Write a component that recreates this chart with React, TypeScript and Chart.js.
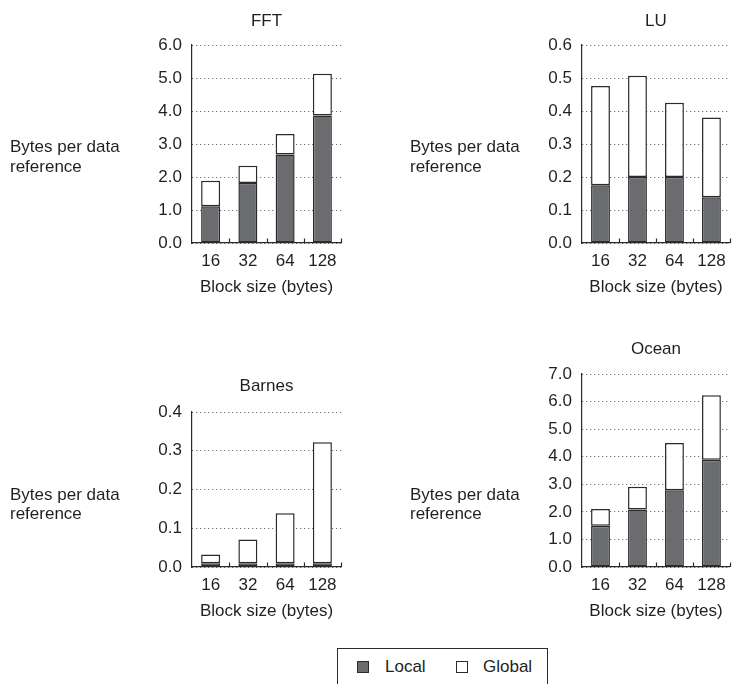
import React, { useEffect, useRef } from "react";
import { Chart, registerables } from "chart.js";

Chart.register(...registerables);

const FONT = '"Liberation Sans", Arial, Helvetica, sans-serif';
const FS = 17;
const TEXT = "#231f20";
const LOCAL_FILL = "#6b6c70";
const EDGE = "#2b2b2b";

const categories = ["16", "32", "64", "128"];
const yLabelLines = ["Bytes per data", "reference"];
const xTitle = "Block size (bytes)";
const legendLabels = ["Local", "Global"];

const fftLocal = [1.11, 1.82, 2.68, 3.86];
const fftGlobal = [0.78, 0.52, 0.62, 1.27];
const luLocal = [0.175, 0.2, 0.2, 0.139];
const luGlobal = [0.301, 0.307, 0.225, 0.241];
const barnesLocal = [0.01, 0.01, 0.01, 0.01];
const barnesGlobal = [0.022, 0.061, 0.129, 0.312];
const oceanLocal = [1.5, 2.09, 2.78, 3.89];
const oceanGlobal = [0.6, 0.82, 1.72, 2.34];

const fftAxis = [0, 6, 1];
const luAxis = [0, 0.6, 0.1];
const barnesAxis = [0, 0.4, 0.1];
const oceanAxis = [0, 7, 1];

type PanelProps = {
  title: string;
  local: number[];
  global: number[];
  axis: number[];
  left: number;
  top: number;
  width: number;
  height: number;
  plotL: number;
  plotT: number;
  plotR: number;
  plotB: number;
  titleY: number;
  labelX: number;
  labelY: number;
};

const decorPlugin = {
  id: "decor",
  afterDraw(chart: any, _args: any, opts: any) {
    const { ctx, chartArea } = chart;
    ctx.save();
    ctx.fillStyle = TEXT;
    ctx.font = `${FS}px ${FONT}`;
    ctx.textBaseline = "middle";
    ctx.textAlign = "center";
    ctx.fillText(opts.title, (chartArea.left + chartArea.right) / 2, opts.titleY);
    ctx.textAlign = "left";
    yLabelLines.forEach((line: string, i: number) => {
      ctx.fillText(line, opts.labelX, opts.labelY + i * 19.5);
    });
    const xs = chart.scales.x;
    const n = xs.ticks.length;
    ctx.strokeStyle = EDGE;
    ctx.lineWidth = 1.2;
    for (let i = 1; i <= n; i++) {
      const px = Math.round(xs.getPixelForValue(i - 0.5)) + 0.5;
      ctx.beginPath();
      ctx.moveTo(px, chartArea.bottom);
      ctx.lineTo(px, chartArea.bottom - 4.5);
      ctx.stroke();
    }
    ctx.restore();
  },
};

function Panel(p: PanelProps) {
  const ref = useRef<HTMLCanvasElement>(null);
  useEffect(() => {
    const yWidth = p.plotL - p.left;
    const xHeight = p.top + p.height - p.plotB;
    const chart = new Chart(ref.current as HTMLCanvasElement, {
      type: "bar",
      data: {
        labels: categories,
        datasets: [
          {
            label: legendLabels[0],
            data: p.local,
            backgroundColor: LOCAL_FILL,
            borderColor: EDGE,
            borderWidth: 1.5,
            borderSkipped: false,
            barPercentage: 0.51,
            categoryPercentage: 1,
          },
          {
            label: legendLabels[1],
            data: p.global,
            backgroundColor: "#ffffff",
            borderColor: EDGE,
            borderWidth: 1.5,
            borderSkipped: false,
            barPercentage: 0.51,
            categoryPercentage: 1,
          },
        ],
      },
      options: {
        responsive: false,
        animation: false,
        devicePixelRatio: 1,
        layout: {
          padding: {
            left: 0,
            top: p.plotT - p.top,
            right: p.left + p.width - p.plotR,
            bottom: 0,
          },
        },
        plugins: {
          legend: { display: false },
          tooltip: { enabled: false },
          title: { display: false },
          decor: {
            title: p.title,
            titleY: p.titleY - p.top,
            labelX: p.labelX - p.left,
            labelY: p.labelY - p.top,
          },
        } as any,
        scales: {
          x: {
            type: "category",
            stacked: true,
            offset: true,
            grid: { display: false, drawTicks: false },
            border: { display: true, color: EDGE, width: 1.2 },
            ticks: {
              color: TEXT,
              font: { family: FONT, size: FS },
              padding: 8,
              maxRotation: 0,
            },
            title: {
              display: true,
              text: xTitle,
              color: TEXT,
              font: { family: FONT, size: FS },
              padding: { top: 0, bottom: 0 },
            },
            afterFit: (s: any) => {
              s.height = xHeight;
            },
          },
          y: {
            stacked: true,
            min: p.axis[0],
            max: p.axis[1],
            grid: { color: "#555555", lineWidth: 1, drawTicks: false },
            border: { display: true, color: EDGE, width: 1.2, dash: [1, 3] },
            ticks: {
              stepSize: p.axis[2],
              color: TEXT,
              font: { family: FONT, size: FS },
              padding: 10,
              callback: (v: any) => Number(v).toFixed(1),
            },
            afterFit: (s: any) => {
              s.width = yWidth;
            },
          },
        },
      } as any,
      plugins: [decorPlugin as any],
    });
    return () => chart.destroy();
  }, []);
  return (
    <canvas
      ref={ref}
      width={p.width}
      height={p.height}
      style={{ position: "absolute", left: p.left, top: p.top, width: p.width, height: p.height }}
    />
  );
}

export default function App() {
  const legendBox: React.CSSProperties = {
    position: "absolute",
    left: 337,
    top: 648,
    width: 211,
    height: 50,
    border: `1px solid ${EDGE}`,
    boxSizing: "border-box",
    fontFamily: FONT,
    fontSize: FS,
    color: TEXT,
  };
  const sq = (fill: string, x: number): React.CSSProperties => ({
    position: "absolute",
    left: x,
    top: 12,
    width: 12,
    height: 12,
    background: fill,
    border: `1px solid ${EDGE}`,
    boxSizing: "border-box",
  });
  const lbl = (x: number): React.CSSProperties => ({
    position: "absolute",
    left: x,
    top: 8,
    lineHeight: "19px",
    whiteSpace: "nowrap",
  });
  return (
    <div
      style={{
        position: "absolute",
        left: 0,
        top: 0,
        width: 734,
        height: 684,
        overflow: "hidden",
        background: "#ffffff",
      }}
    >
      <Panel title="FFT" local={fftLocal} global={fftGlobal} axis={fftAxis}
        left={0} top={0} width={367} height={298}
        plotL={192} plotT={45} plotR={341} plotB={243}
        titleY={21.5} labelX={10} labelY={147.5} />
      <Panel title="LU" local={luLocal} global={luGlobal} axis={luAxis}
        left={367} top={0} width={367} height={298}
        plotL={582} plotT={45} plotR={731} plotB={243}
        titleY={21.5} labelX={410} labelY={147.5} />
      <Panel title="Barnes" local={barnesLocal} global={barnesGlobal} axis={barnesAxis}
        left={0} top={320} width={367} height={302}
        plotL={192} plotT={412} plotR={341} plotB={567}
        titleY={386} labelX={10} labelY={495} />
      <Panel title="Ocean" local={oceanLocal} global={oceanGlobal} axis={oceanAxis}
        left={367} top={320} width={367} height={302}
        plotL={582} plotT={374} plotR={731} plotB={567}
        titleY={349.5} labelX={410} labelY={495} />
      <div style={legendBox}>
        <div style={sq(LOCAL_FILL, 19)} />
        <div style={lbl(47)}>{legendLabels[0]}</div>
        <div style={sq("#ffffff", 118)} />
        <div style={lbl(145)}>{legendLabels[1]}</div>
      </div>
    </div>
  );
}
